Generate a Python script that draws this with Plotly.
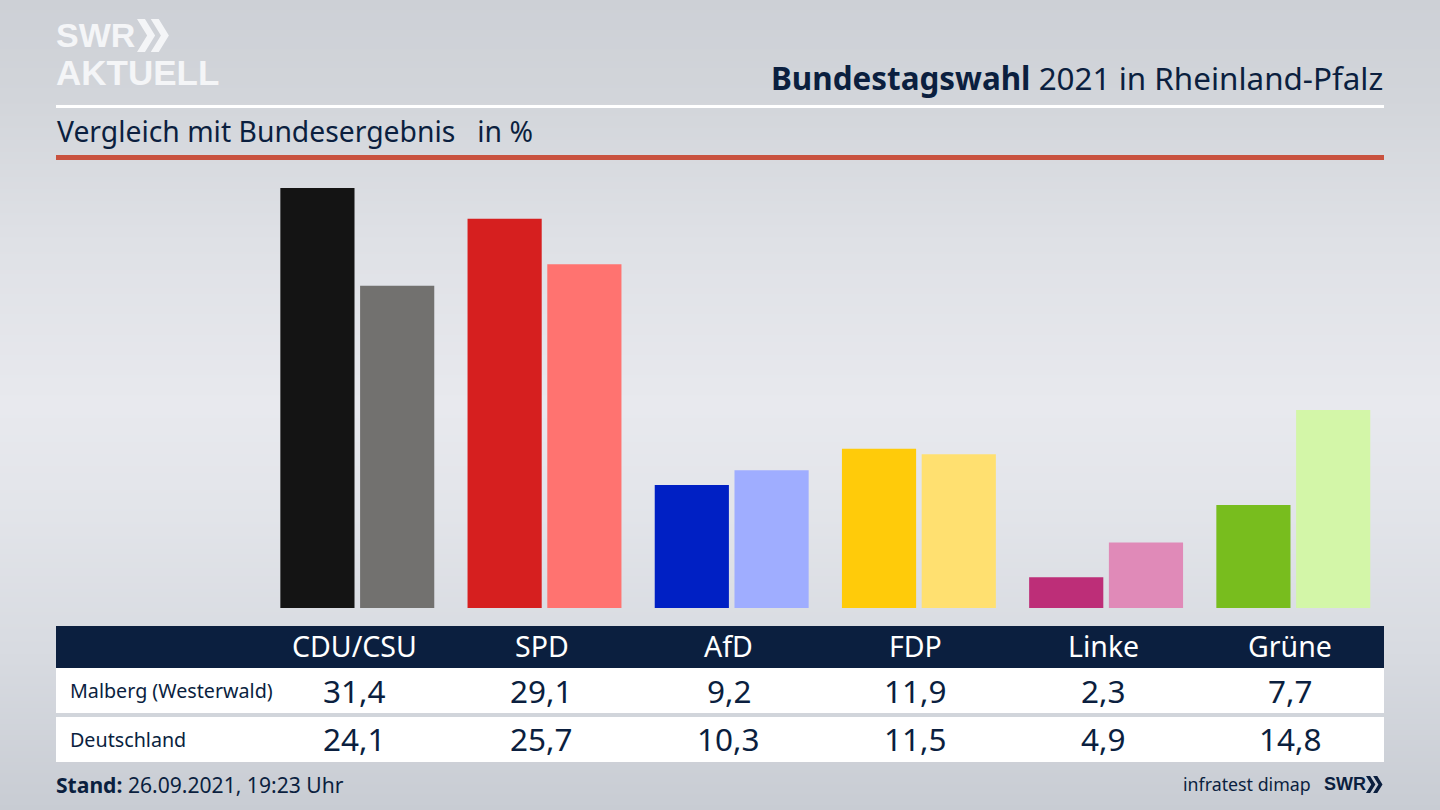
import plotly.graph_objects as go

W, H = 1440, 810

parties = ["CDU/CSU", "SPD", "AfD", "FDP", "Linke", "Grüne"]
malberg = [31.4, 29.1, 9.2, 11.9, 2.3, 7.7]
deutschland = [24.1, 25.7, 10.3, 11.5, 4.9, 14.8]
malberg_labels = ["31,4", "29,1", "9,2", "11,9", "2,3", "7,7"]
deutschland_labels = ["24,1", "25,7", "10,3", "11,5", "4,9", "14,8"]
malberg_colors = ["#141414", "#d61f1f", "#0020c4", "#ffcb0a", "#bd2e78", "#78bd1e"]
deutschland_colors = ["#72716f", "#ff7370", "#9fadff", "#ffe070", "#e08ab8", "#d3f6a8"]
row_names = ["Malberg (Westerwald)", "Deutschland"]

bg_positions = [0, 0.12, 0.3, 0.5, 0.62, 0.8, 1]
bg_z = [[0], [0.12], [0.3], [0.5], [0.62], [0.8], [1]]
bg_scale = [[0, "#cdd0d6"], [0.12, "#d2d5da"], [0.3, "#dfe1e6"], [0.5, "#e8e9ee"],
            [0.62, "#e3e5ea"], [0.8, "#d8dbe1"], [1, "#c8ccd3"]]

NAVY = "#0b1f3f"
FONT = "Noto Sans"
LOGO = "Liberation Sans"


def px(v):
    return v / W


def py(v):
    return 1 - v / H


fig = go.Figure()

# background gradient
fig.add_trace(go.Heatmap(
    z=[[v[0], v[0]] for v in bg_z], y=bg_positions, x=[0, 1],
    colorscale=bg_scale, zmin=0, zmax=1, zsmooth="best", showscale=False,
    hoverinfo="skip", xaxis="x", yaxis="y"))

fig.add_trace(go.Bar(x=parties, y=malberg, name="Malberg (Westerwald)",
                     marker=dict(color=malberg_colors, line_width=0),
                     xaxis="x2", yaxis="y2"))
fig.add_trace(go.Bar(x=parties, y=deutschland, name="Deutschland",
                     marker=dict(color=deutschland_colors, line_width=0),
                     xaxis="x2", yaxis="y2"))

shapes = []


def rect(x0, y0, x1, y1, color):
    shapes.append(dict(type="rect", xref="paper", yref="paper",
                       x0=px(x0), x1=px(x1), y0=py(y1), y1=py(y0),
                       fillcolor=color, line_width=0, layer="above"))


rect(56, 105, 1384, 108, "#ffffff")
rect(56, 155, 1384, 160, "#c9523f")
rect(56, 626, 1384, 668, NAVY)
rect(56, 668, 1384, 713, "#ffffff")
rect(56, 717, 1384, 762, "#ffffff")


def chevrons(x, y, h, w, color):
    """two chevrons starting at pixel x, top y"""
    for dx in (0, w * 0.95):
        pts = [(x + dx, y), (x + dx + w * 0.55, y), (x + dx + w * 1.25, y + h / 2),
               (x + dx + w * 0.55, y + h), (x + dx, y + h), (x + dx + w * 0.7, y + h / 2)]
        path = "M" + " L".join(f"{px(a):.5f},{py(b):.5f}" for a, b in pts) + " Z"
        shapes.append(dict(type="path", xref="paper", yref="paper", path=path,
                           fillcolor=color, line_width=0, layer="above"))


chevrons(137, 19, 33, 14.5, "#f4f5f7")
chevrons(1366, 776, 17, 7.5, NAVY)

annotations = []


def text(x, y, s, size, color=NAVY, anchor="left", family=FONT):
    annotations.append(dict(xref="paper", yref="paper", x=px(x), y=py(y), text=s,
                            showarrow=False, xanchor=anchor, yanchor="middle",
                            align=anchor, xshift=0,
                            font=dict(family=family, size=size, color=color)))


text(54, 35, "<b>SWR</b>", 34, "#f4f5f7", family=LOGO)
text(54, 72, "<b>AKTUELL</b>", 35, "#f4f5f7", family=LOGO)
text(1385, 77, "<b>Bundestagswahl</b> 2021 in Rheinland-Pfalz", 31.4, anchor="right")
text(55, 131, "Vergleich mit Bundesergebnis&nbsp;&nbsp; in %", 28.3)
text(68, 690, row_names[0], 19.7)
text(68, 739, row_names[1], 19.7)
text(54, 784, "<b>Stand:</b> 26.09.2021, 19:23 Uhr", 21.1)
text(1313, 784, "infratest dimap", 17.8, anchor="right")
text(1322, 784, "<b>SWR</b>", 18, family=LOGO)

for i, p in enumerate(parties):
    for y, s, size, col in ((645.5, p, 28.5, "#ffffff"),
                            (690, malberg_labels[i], 31.5, NAVY),
                            (738, deutschland_labels[i], 31.5, NAVY)):
        annotations.append(dict(xref="x2", yref="paper", x=p, y=py(y), text=s,
                                xshift=-3, showarrow=False, xanchor="center",
                                yanchor="middle",
                                font=dict(family=FONT, size=size, color=col)))

Y0, Y_TOP = 608, 160
SCALE = 420 / 31.4

fig.update_layout(
    width=W, height=H, autosize=False,
    margin=dict(l=0, r=0, t=0, b=0),
    paper_bgcolor="#dfe1e6", plot_bgcolor="rgba(0,0,0,0)",
    barmode="group", bargap=0.148, bargroupgap=0.07, showlegend=False,
    xaxis=dict(domain=[0, 1], range=[0, 1], visible=False, fixedrange=True),
    yaxis=dict(domain=[0, 1], range=[1, 0], visible=False, fixedrange=True),
    xaxis2=dict(domain=[263.7 / W, 1386.9 / W], range=[-0.5, 5.5], type="category",
                categoryorder="array", categoryarray=parties, visible=False,
                anchor="y2", fixedrange=True),
    yaxis2=dict(domain=[py(Y0), py(Y_TOP)], range=[0, (Y0 - Y_TOP) / SCALE],
                visible=False, anchor="x2", fixedrange=True),
    shapes=shapes, annotations=annotations,
)

fig.write_html("out.html", config=dict(displayModeBar=False),
               post_script="document.body.style.margin='0';document.documentElement.style.overflow='hidden';")
